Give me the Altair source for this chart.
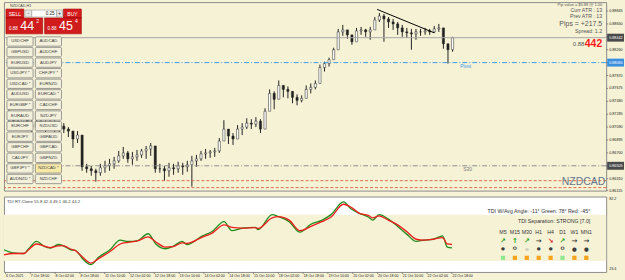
import altair as alt
import pandas as pd

# ---------------- data ----------------
# NZDCAD H1 candles, sampled every 3rd bar (bar index on x)
STEP = 3
HI = [0.87360, 0.87300, 0.87255, 0.87285, 0.87240, 0.87210, 0.87270, 0.87225, 0.87195, 0.87240,
      0.87210, 0.87180, 0.87150, 0.87090, 0.86985, 0.87030, 0.86910, 0.86535, 0.86505, 0.86460,
      0.86535, 0.86580, 0.86610, 0.86640, 0.86730, 0.86790, 0.86730, 0.86715, 0.86745, 0.86760,
      0.86805, 0.86850, 0.86805, 0.86535, 0.86505, 0.86550, 0.86535, 0.86565, 0.86550, 0.86580,
      0.86655, 0.86670, 0.86730, 0.86760, 0.86745, 0.86775, 0.86925, 0.87195, 0.87060, 0.87000,
      0.87120, 0.87150, 0.87225, 0.87210, 0.87240, 0.87210, 0.87375, 0.87660, 0.87630, 0.87795,
      0.87720, 0.87705, 0.87630, 0.87585, 0.87570, 0.87720, 0.87750, 0.87795, 0.88035, 0.88080,
      0.88140, 0.88290, 0.88575, 0.88635, 0.88530, 0.88440, 0.88590, 0.88605, 0.88575, 0.88605,
      0.88755, 0.88815, 0.88800, 0.88755, 0.88725, 0.88680, 0.88635, 0.88590, 0.88575, 0.88575,
      0.88575, 0.88590, 0.88575, 0.88620, 0.88650, 0.88530, 0.88350, 0.88455]
LO = [0.87075, 0.87105, 0.87060, 0.87090, 0.87030, 0.87015, 0.87075, 0.87030, 0.86985, 0.87045,
      0.87000, 0.86985, 0.87000, 0.86940, 0.86775, 0.86850, 0.86430, 0.86400, 0.86355, 0.86265,
      0.86355, 0.86400, 0.86430, 0.86460, 0.86550, 0.86610, 0.86550, 0.86520, 0.86580, 0.86625,
      0.86610, 0.86655, 0.86400, 0.86400, 0.86280, 0.86340, 0.86370, 0.86400, 0.86370, 0.86415,
      0.86190, 0.86490, 0.86580, 0.86610, 0.86625, 0.86640, 0.86700, 0.86880, 0.86835, 0.86820,
      0.86940, 0.86970, 0.87060, 0.87060, 0.87090, 0.87000, 0.87150, 0.87450, 0.87360, 0.87600,
      0.87540, 0.87525, 0.87450, 0.87420, 0.87465, 0.87555, 0.87600, 0.87660, 0.87855, 0.87930,
      0.88005, 0.88155, 0.88410, 0.88470, 0.88425, 0.88335, 0.88470, 0.88485, 0.88455, 0.88410,
      0.88590, 0.88680, 0.88380, 0.88590, 0.88560, 0.88485, 0.88455, 0.88440, 0.88260, 0.88410,
      0.88470, 0.88485, 0.88485, 0.88515, 0.88530, 0.88275, 0.88050, 0.88230]
CL = [0.87210, 0.87180, 0.87150, 0.87210, 0.87120, 0.87090, 0.87180, 0.87105, 0.87060, 0.87150,
      0.87075, 0.87105, 0.87060, 0.87030, 0.86910, 0.86970, 0.86490, 0.86460, 0.86430, 0.86400,
      0.86475, 0.86505, 0.86535, 0.86580, 0.86655, 0.86700, 0.86610, 0.86640, 0.86670, 0.86730,
      0.86760, 0.86805, 0.86460, 0.86460, 0.86430, 0.86475, 0.86460, 0.86505, 0.86490, 0.86520,
      0.86580, 0.86610, 0.86685, 0.86700, 0.86715, 0.86730, 0.86880, 0.87060, 0.86955, 0.86910,
      0.87060, 0.87090, 0.87150, 0.87135, 0.87180, 0.87060, 0.87330, 0.87600, 0.87510, 0.87720,
      0.87660, 0.87630, 0.87540, 0.87495, 0.87525, 0.87660, 0.87690, 0.87750, 0.87990, 0.88050,
      0.88110, 0.88260, 0.88530, 0.88560, 0.88485, 0.88380, 0.88545, 0.88560, 0.88530, 0.88560,
      0.88710, 0.88770, 0.88725, 0.88680, 0.88650, 0.88590, 0.88530, 0.88515, 0.88500, 0.88530,
      0.88530, 0.88545, 0.88530, 0.88575, 0.88590, 0.88350, 0.88260, 0.88442]

PRICE_TICKS = [0.88845, 0.88650, 0.88455, 0.88260, 0.88065, 0.87870, 0.87675, 0.87480,
               0.87285, 0.87090, 0.86895, 0.86700, 0.86505, 0.86310, 0.86115]
BID = 0.88442
PIVOT = 0.88065
S_LEVEL = 0.86505
RED_LEVELS = [0.86280, 0.86175]
TREND_BARS = [241.5, 279]
TREND_PRICES = [0.88870, 0.88515]

TIME_TICKS = [1, 17, 33, 49, 65, 81, 97, 113, 129, 145, 161, 177, 193, 209, 225, 241, 257, 273, 289]
TIME_LABELS = ['6 Oct 2021', '7 Oct 18:00', '8 Oct 02:00', '8 Oct 18:00', '11 Oct 10:00',
               '12 Oct 02:00', '12 Oct 18:00', '13 Oct 10:00', '14 Oct 02:00', '14 Oct 18:00',
               '15 Oct 10:00', '18 Oct 02:00', '18 Oct 18:00', '19 Oct 10:00', '20 Oct 02:00',
               '20 Oct 18:00', '21 Oct 10:00', '22 Oct 02:00', '22 Oct 18:00']

# TDI indicator
TDI_BAR = [0, 6, 13, 16, 21, 26, 30, 35, 38, 43, 46, 51, 56, 61, 68, 75, 80, 86, 93, 98,
           104, 109, 115, 118, 128, 134, 142, 147, 154, 162, 164, 173, 177, 184, 191, 198, 205, 211, 219, 224,
           229, 235, 238, 242, 248, 254, 260, 266, 271, 277, 283, 286, 289]
TDI_GREEN = [40.7, 38.3, 37.8, 41.5, 47.2, 43.3, 42.0, 44.8, 44.0, 40.7,
             40.3, 33.3, 29.1, 34.8, 40.3, 48.2, 47.2, 47.7, 53.2, 45.2,
             41.5, 43.3, 47.2, 44.8, 51.5, 54.7, 62.6, 55.6, 57.6, 58.2,
             56.4, 68.1, 66.6, 62.6, 54.4, 60.6, 63.6, 68.1, 78.0, 72.5,
             69.3, 66.3, 63.8, 68.1, 64.6, 58.9, 52.7, 47.2, 48.2, 48.9,
             51.5, 42.8, 42.2]
TDI_RED = [36.8, 37.8, 37.8, 40.9, 45.2, 43.5, 42.4, 43.7, 43.9, 41.3,
           40.1, 34.6, 30.3, 33.8, 39.0, 45.2, 46.5, 47.6, 50.7, 46.8,
           42.8, 43.1, 46.1, 45.7, 50.6, 53.5, 60.1, 58.2, 57.6, 58.0,
           57.3, 65.6, 66.6, 63.8, 55.6, 58.9, 62.6, 66.3, 76.2, 73.8,
           69.3, 67.5, 65.6, 67.1, 63.8, 60.1, 54.7, 48.9, 48.2, 48.9,
           50.2, 45.2, 44.8]
TDI_BAND = [32, 68]
TDI_TOP, TDI_BOTTOM = 82.2, 23.4

# symbol buttons
PAIRS_L = ['USDCHF', 'GBPUSD', 'EURUSD', 'USDJPY *', 'USDCAD *', 'AUDUSD', 'EURGBP *',
           'EURAUD', 'EURCHF', 'EURJPY', 'GBPCHF', 'CADJPY', 'GBPJPY *', 'AUDNZD *']
PAIRS_R = ['AUDCAD', 'AUDCHF', 'AUDJPY', 'CHFJPY *', 'EURNZD', 'EURCAD *', 'CADCHF',
           'NZDJPY', 'NZDUSD', 'GBPAUD', 'GBPCAD', 'GBPNZD', 'NZDCAD *', 'NZDCHF']
ACTIVE = 'NZDCAD *'

# multi-timeframe dashboard
TF = ['M5', 'M15', 'M30', 'H1', 'H4', 'D1', 'W1', 'MN1']
TREND = ['up-right', 'up', 'up-right', 'right', 'down-right', 'up-right', 'right', 'right']
DOTS = ['dot', 'ring', 'link', 'dot', 'dot', 'ring', 'small', 'small']
BIAS = ['bull', 'bear', 'bear', 'bear', 'bear', 'bull', 'bear', 'bear']

# ---------------- layout / style ----------------
W, H_TOP, H_BOT = 607, 190, 76
XMAX = 388.5
P_DOM = [0.86130, 0.88980]
T_DOM = [TDI_BOTTOM, TDI_TOP]
CREAM = '#f6f2d6'
FONT = 'Liberation Sans'
GRID = '#8c8c8c'
PLBL = 3.8
TLBL = 3.6

xs = alt.Scale(domain=[0, XMAX], nice=False, zero=False)
ps = alt.Scale(domain=P_DOM, nice=False, zero=False, clamp=True)
ts = alt.Scale(domain=T_DOM, nice=False, zero=False)
one = pd.DataFrame({'k': [0]})


def X(field):
    return alt.X(field, scale=xs, axis=None)


def P(field):
    return alt.Y(field, scale=ps, axis=None)


def T(field):
    return alt.Y(field, scale=ts, axis=None)


def ui_rect(x1, y1, x2, y2, fill, stroke=None, sw=0.6):
    kw = dict(fill=fill)
    if stroke:
        kw.update(stroke=stroke, strokeWidth=sw)
    return alt.Chart(one).mark_rect(**kw).encode(
        x=alt.value(x1), x2=alt.value(x2), y=alt.value(y1), y2=alt.value(y2))


def ui_text(x, y, s, size, color, align='left', weight='normal'):
    return alt.Chart(one).mark_text(fontSize=size, color=color, align=align,
                                    fontWeight=weight, baseline='middle').encode(
        x=alt.value(x), y=alt.value(y), text=alt.value(s))


# ---------------- price panel ----------------
candles = pd.DataFrame({'bar': [i * STEP for i in range(len(CL))], 'hi': HI, 'lo': LO, 'cl': CL,
                        'op': [CL[0]] + CL[:-1]})
candles['dir'] = ['up' if c >= o else 'down' for c, o in zip(candles.cl, candles.op)]

wicks = alt.Chart(candles).mark_rule(color='#222222', strokeWidth=1).encode(
    x=X('bar:Q'), y=P('lo:Q'), y2='hi:Q')
bodies = alt.Chart(candles).mark_bar(size=2.2, stroke='#222222', strokeWidth=0.5).encode(
    x=X('bar:Q'), y=P('op:Q'), y2='cl:Q',
    fill=alt.Fill('dir:N', scale=alt.Scale(domain=['up', 'down'], range=['#ffffff', '#222222']),
                  legend=None))

# right price scale drawn from the tick list (lowest label sits on the panel's bottom edge)
ptick_df = pd.DataFrame({'p': PRICE_TICKS})
p_ticks = alt.Chart(ptick_df).mark_rule(color='#777777', strokeWidth=0.8).encode(
    x=alt.value(W), x2=alt.value(W + 2), y=P('p:Q'))
p_labels = alt.Chart(ptick_df).mark_text(fontSize=PLBL, color='#222222', align='left').encode(
    x=alt.value(W + 3), y=P('p:Q'), text=alt.Text('p:Q', format='.5f'))


def hline(vals, color, dash=None, width=1):
    kw = dict(color=color, strokeWidth=width)
    if dash:
        kw['strokeDash'] = dash
    return alt.Chart(pd.DataFrame({'p': vals})).mark_rule(**kw).encode(y=P('p:Q'))


bid_line = hline([BID], '#a6a6a6')
pivot_line = hline([PIVOT], '#3d9be9', [5, 2, 1, 2])
s_line = hline([S_LEVEL], '#8d8d8d', [5, 2, 1, 2])
red_lines = hline(RED_LEVELS, '#dd6a4a', [3, 2])

trend = alt.Chart(pd.DataFrame({'bar': TREND_BARS, 'p': TREND_PRICES})).mark_line(
    color='#000000', strokeWidth=1).encode(x=X('bar:Q'), y=P('p:Q'))

pivot_lbl = alt.Chart(pd.DataFrame({'bar': [296], 'p': [PIVOT], 't': ['Pivot']})).mark_text(
    fontSize=5, color='#3d9be9', align='left', baseline='top', dy=1).encode(
    x=X('bar:Q'), y=P('p:Q'), text='t:N')
s_lbl = alt.Chart(pd.DataFrame({'bar': [298], 'p': [S_LEVEL], 't': ['S30']})).mark_text(
    fontSize=5, color='#777777', align='left', baseline='top', dy=1).encode(
    x=X('bar:Q'), y=P('p:Q'), text='t:N')

boxes_df = pd.DataFrame({'p': [BID, PIVOT, S_LEVEL], 'kind': ['bid', 'pivot', 's']})
box_rect = alt.Chart(boxes_df).transform_calculate(
    top='datum.p + 0.0006', bot='datum.p - 0.0006').mark_rect().encode(
    x=alt.value(W + 1), x2=alt.value(W + 18),
    y=P('top:Q'), y2='bot:Q',
    color=alt.Color('kind:N', scale=alt.Scale(domain=['bid', 'pivot', 's'],
                                              range=['#4a4a4a', '#3b8fe0', '#4a4a4a']), legend=None))
box_text = alt.Chart(boxes_df).mark_text(fontSize=PLBL, color='white', align='left').encode(
    x=alt.value(W + 3), y=P('p:Q'), text=alt.Text('p:Q', format='.5f'))

info = [
    ui_text(603, 2.5, 'Pip value = $5.88 @ 1.00', 4, '#555', 'right'),
    ui_text(603, 8, 'Curr ATR : 13', 5.3, '#555', 'right'),
    ui_text(603, 14.5, 'Prev ATR : 13', 5.3, '#555', 'right'),
    ui_text(603, 22, 'Pips = +217.5', 7, '#555', 'right'),
    ui_text(603, 29.5, 'Spread: 1.2', 5.3, '#555', 'right'),
    ui_text(585, 42.5, '0.88', 6, '#555', 'right'),
    ui_text(603, 42, '442', 10.5, '#ff1a1a', 'right', 'bold'),
    ui_text(606, 181, 'NZDCAD', 10.5, '#66778d', 'right'),
]

trade_panel = [
    ui_text(6, 4, 'NZDCAD,H1', 3.8, '#444'),
    ui_rect(2, 7, 20, 16, '#d41c1c', '#a00000'),
    ui_text(11, 11.7, 'SELL', 5, 'white', 'center'),
    ui_rect(21, 8, 28, 15, '#e6e6e6', '#999999'),
    ui_text(24.5, 11.5, '-', 5, '#222', 'center'),
    ui_rect(28, 8, 53, 15, '#ffffff', '#999999'),
    ui_text(51, 11.7, '0.25', 4.6, '#222', 'right'),
    ui_rect(53, 8, 59, 15, '#e6e6e6', '#999999'),
    ui_text(56, 11.5, '+', 5, '#222', 'center'),
    ui_rect(60, 7, 78, 16, '#d41c1c', '#a00000'),
    ui_text(69, 11.7, 'BUY', 5, 'white', 'center'),
    ui_rect(2, 16, 39, 32, '#d01c1c', '#a00000'),
    ui_text(5, 27, '0.88', 4.6, 'white'),
    ui_text(16.5, 24.5, '44', 12.5, 'white'),
    ui_text(32.5, 19.5, '2', 5, 'white'),
    ui_rect(41, 16, 78, 32, '#d01c1c', '#a00000'),
    ui_text(44, 27, '0.88', 4.6, 'white'),
    ui_text(55.5, 24.5, '45', 12.5, 'white'),
    ui_text(71.5, 19.5, '4', 5, 'white'),
]

price_group = alt.layer(wicks, bodies, bid_line, pivot_line, s_line, red_lines, trend,
                        pivot_lbl, s_lbl, p_ticks, p_labels, box_rect, box_text, *info, *trade_panel)

btn_df = pd.DataFrame({
    'col': [0] * len(PAIRS_L) + [1] * len(PAIRS_R),
    'row': list(range(len(PAIRS_L))) + list(range(len(PAIRS_R))),
    'pair': PAIRS_L + PAIRS_R,
})
btn_df['on'] = ['on' if p == ACTIVE else 'off' for p in btn_df.pair]
bx = alt.X('col:O', scale=alt.Scale(range=[3, 58], paddingInner=0.08, paddingOuter=0), axis=None)
by = alt.Y('row:O', scale=alt.Scale(range=[35, 183], paddingInner=0.12, paddingOuter=0), axis=None)
btn_rect = alt.Chart(btn_df).mark_rect(stroke='#868680', strokeWidth=0.8, cornerRadius=1).encode(
    x=bx, y=by,
    fill=alt.Fill('on:N', scale=alt.Scale(domain=['off', 'on'], range=['#f3f0dc', '#f7e9a8']),
                  legend=None))
btn_text = alt.Chart(btn_df).mark_text(fontSize=4.3, color='#404040').encode(
    x=bx, y=by, text='pair:N')
buttons = alt.layer(btn_rect, btn_text)

top = alt.layer(price_group, buttons).resolve_scale(
    x='independent', y='independent', fill='independent', color='independent'
).properties(width=W, height=H_TOP)

# ---------------- TDI panel ----------------
tdi = pd.DataFrame({'bar': TDI_BAR, 'green': TDI_GREEN, 'red': TDI_RED})

band = alt.Chart(pd.DataFrame({'x0': [0], 'x1': [XMAX], 'lo': [TDI_BAND[0]], 'hi': [TDI_BAND[1]]})
                 ).mark_rect(color=CREAM).encode(
    x=X('x0:Q'), x2='x1:Q', y=T('lo:Q'), y2='hi:Q')
green_line = alt.Chart(tdi).mark_line(color='#1c8e1c', strokeWidth=1.3, interpolate='monotone').encode(
    x=X('bar:Q'), y=T('green:Q'))
red_line = alt.Chart(tdi).mark_line(color='#f01c1c', strokeWidth=1.3, interpolate='monotone').encode(
    x=X('bar:Q'), y=T('red:Q'))

time_df = pd.DataFrame({'bar': TIME_TICKS, 'lab': TIME_LABELS})
t_ticks = alt.Chart(time_df).mark_rule(color='#777777', strokeWidth=0.8).encode(
    x=X('bar:Q'), y=alt.value(H_BOT), y2=alt.value(H_BOT + 2))
t_labels = alt.Chart(time_df).mark_text(fontSize=TLBL, color='#222222', align='left',
                                        baseline='top', dx=0.5).encode(
    x=X('bar:Q'), y=alt.value(H_BOT + 2), text='lab:N')
tdi_top_lbl = alt.Chart(pd.DataFrame({'v': [TDI_TOP]})).mark_text(
    fontSize=PLBL, color='#222222', align='left', baseline='top', dy=0.5).encode(
    x=alt.value(W + 3), y=T('v:Q'), text=alt.Text('v:Q', format='.1f'))
tdi_bot_lbl = alt.Chart(pd.DataFrame({'v': [TDI_BOTTOM]})).mark_text(
    fontSize=PLBL, color='#222222', align='left', baseline='bottom', dy=-0.5).encode(
    x=alt.value(W + 3), y=T('v:Q'), text=alt.Text('v:Q', format='.1f'))

tdi_texts = [
    ui_text(3, 6, 'TDI RT-Clone 55.8 42.4 49.1 46.2 44.2', 4.3, '#444'),
    ui_text(591, 15, 'TDI W/Avg Angle: -11°  Green: 78°  Red: -45°', 5.3, '#333', 'right'),
    ui_text(591, 24.7, 'TDI Separation: STRONG [7.0]', 5.3, '#333', 'right'),
]
tdi_group = alt.layer(band, green_line, red_line, t_ticks, t_labels, tdi_top_lbl, tdi_bot_lbl,
                      *tdi_texts)

dash = pd.DataFrame({'tf': TF, 'trend': TREND, 'dot': DOTS, 'bias': BIAS})
dx = alt.X('tf:O', sort=TF, scale=alt.Scale(domain=TF, range=[497, 593], paddingInner=0, paddingOuter=0),
           axis=None)
ROWS = ['head', 'arrow', 'dot', 'sq']
dy = alt.Y('row:O', scale=alt.Scale(domain=ROWS, range=[32, 66], paddingInner=0, paddingOuter=0),
           axis=None)
head = alt.Chart(dash).transform_calculate(row="'head'").mark_text(fontSize=5.3, color='#333').encode(
    x=dx, y=dy, text='tf:N')
arrows = alt.Chart(dash).transform_calculate(
    row="'arrow'",
    sym="datum.trend == 'up' ? '↑' : datum.trend == 'up-right' ? '↗' : datum.trend == 'down-right' ? '↘' : '→'"
).mark_text(fontSize=7, fontWeight='bold', font='DejaVu Sans').encode(
    x=dx, y=dy, text='sym:N',
    color=alt.Color('trend:N', scale=alt.Scale(domain=['up-right', 'up', 'right', 'down-right'],
                                               range=['#16a016', '#16a016', '#3a3a3a', '#e01a1a']),
                    legend=None))
dots = alt.Chart(dash).transform_calculate(
    row="'dot'",
    sym="datum.dot == 'ring' ? 'O' : datum.dot == 'link' ? '∞' : '●'"
).mark_text(fontWeight='bold', font='DejaVu Sans').encode(
    x=dx, y=dy, text='sym:N',
    size=alt.Size('dot:N', scale=alt.Scale(domain=['dot', 'ring', 'link', 'small'], range=[4.5, 5.5, 5, 2.5]),
                  legend=None),
    color=alt.Color('dot:N', scale=alt.Scale(domain=['dot', 'ring', 'link', 'small'],
                                             range=['#3c3c3c', '#3c3c3c', '#b0b0b0', '#3c3c3c']), legend=None))
squares = alt.Chart(dash).transform_calculate(row="'sq'").mark_square(size=18, opacity=1).encode(
    x=dx, y=dy,
    color=alt.Color('bias:N', scale=alt.Scale(domain=['bull', 'bear'], range=['#8ee68e', '#f7a21b']),
                    legend=None))
dash_group = alt.layer(head, arrows, dots, squares).resolve_scale(color='independent', size='independent')

bottom = alt.layer(tdi_group, dash_group).resolve_scale(
    x='independent', y='independent', color='independent', size='independent'
).properties(width=W, height=H_BOT, view=alt.ViewBackground(fill='white', stroke=GRID))

chart = alt.vconcat(top, bottom, spacing=2).properties(
    padding=0, background=CREAM
).configure(font=FONT).configure_view(stroke=GRID)

chart.save('out.html', embed_options={'renderer': 'svg', 'actions': False})
